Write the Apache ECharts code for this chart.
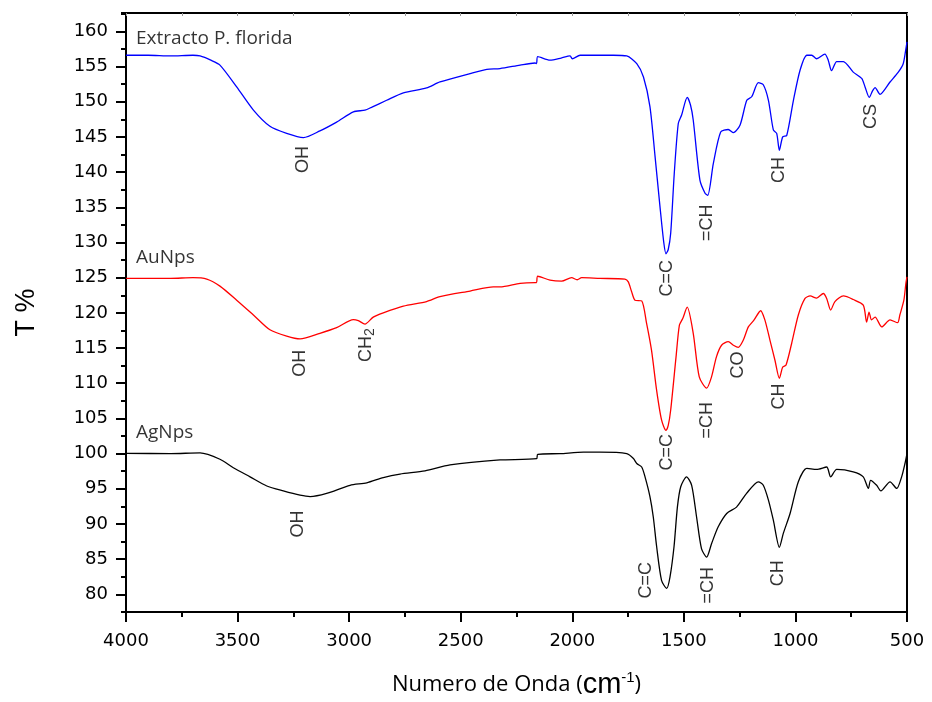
<!DOCTYPE html>
<html>
<head>
<meta charset="utf-8">
<script src="https://cdn.jsdelivr.net/npm/echarts@6/dist/echarts.min.js"></script>
<style>
  html, body { margin: 0; padding: 0; background: #fff; }
  #chart { width: 932px; height: 702px; }
</style>
</head>
<body>
<div id="chart"></div>
<script>
// FTIR spectra, [wavenumber cm-1, T %]
const extractoData = [
  [4000,156.6],[3900,156.6],[3800,156.5],[3700,156.6],[3668,156.5],[3620,155.9],[3579,155.2],[3504,152.1],
  [3429,148.8],[3355,146.5],[3280,145.5],[3205,144.9],[3131,145.85],[3056,147.1],[2981,148.55],[2929,148.8],
  [2900,149.2],[2832,150.2],[2757,151.25],[2653,151.96],[2593,152.8],[2458,154.0],[2383,154.6],[2324,154.7],
  [2234,155.2],[2167,155.5],[2160,155.4],[2155,156.4],[2100,155.9],[2050,156.2],[2010,156.5],[2000,156.1],
  [1965,156.6],[1900,156.6],[1816,156.6],[1756,156.5],[1711,155.4],[1681,153.5],[1652,149.3],[1629,142.2],
  [1607,135.1],[1590,130.0],[1580,128.4],[1570,129.0],[1559,131.3],[1543,139.8],[1525,146.9],[1510,148.1],
  [1485,150.6],[1470,149.5],[1458,147.4],[1428,138.85],[1405,137.0],[1393,136.7],[1368,141.2],[1335,145.7],
  [1301,146.05],[1278,145.6],[1248,146.7],[1218,150.2],[1196,150.7],[1166,152.7],[1144,152.4],[1121,150.2],
  [1099,146.0],[1084,145.5],[1072,143.1],[1057,145.0],[1039,145.2],[1009,150.2],[979,154.5],[949,156.6],
  [927,156.6],[905,156.1],[868,156.75],[853,155.9],[838,154.4],[815,155.7],[785,155.7],[741,154.2],
  [703,153.3],[688,152.1],[669,150.6],[655,151.5],[643,152.0],[621,151.05],[576,152.8],[539,154.2],
  [517,155.4],[506,157.3],[500,158.5]
];
const auNpsData = [
  [4000,124.9],[3800,124.9],[3700,125.0],[3638,124.8],[3579,123.8],[3504,121.8],[3429,119.7],[3355,117.6],
  [3280,116.7],[3220,116.3],[3131,117.1],[3056,117.9],[2981,119.05],[2959,118.9],[2929,118.4],[2892,119.4],
  [2847,120.0],[2757,120.95],[2653,121.6],[2593,122.3],[2458,123.1],[2354,123.7],[2324,123.7],[2234,124.2],
  [2167,124.3],[2160,124.3],[2155,125.2],[2100,124.65],[2048,124.5],[2003,125.0],[1978,124.7],[1958,125.0],
  [1876,124.9],[1764,124.8],[1749,124.4],[1734,123.0],[1719,121.8],[1689,121.7],[1667,118.5],[1645,114.7],
  [1622,109.0],[1600,104.8],[1580,103.3],[1570,104.0],[1559,106.2],[1535,113.75],[1520,118.25],[1505,119.2],
  [1485,120.8],[1458,117.1],[1431,110.9],[1398,109.3],[1376,110.9],[1354,113.75],[1331,115.4],[1301,115.9],
  [1278,115.4],[1256,115.1],[1234,116.1],[1211,118.0],[1186,118.96],[1156,120.3],[1137,119.0],[1114,116.1],
  [1092,113.3],[1072,110.7],[1057,112.3],[1042,112.6],[1017,115.65],[987,119.7],[957,122.05],[934,122.4],
  [905,122.1],[875,122.75],[860,122.05],[842,120.4],[823,121.6],[785,122.4],[741,121.9],[696,121.1],
  [681,118.7],[670,120.1],[659,119.0],[643,119.4],[613,118.0],[576,119.0],[542,118.6],[532,119.7],
  [514,121.8],[505,124.2],[500,125.1]
];
const agNpsData = [
  [4000,100.05],[3800,100.0],[3668,100.1],[3579,99.2],[3519,98.0],[3444,96.7],[3369,95.4],[3295,94.7],
  [3220,94.1],[3175,93.9],[3101,94.35],[2996,95.5],[2921,95.85],[2847,96.6],[2772,97.1],[2660,97.55],
  [2548,98.4],[2324,99.1],[2160,99.3],[2155,99.9],[2055,100.0],[1950,100.2],[1876,100.2],[1756,100.0],
  [1726,99.3],[1711,98.6],[1689,98.1],[1674,96.7],[1652,93.9],[1637,91.0],[1622,86.8],[1600,82.0],
  [1577,80.85],[1562,82.5],[1544,86.8],[1529,92.4],[1514,95.3],[1488,96.7],[1465,95.5],[1443,91.0],
  [1421,86.5],[1398,85.3],[1376,87.2],[1346,89.6],[1308,91.5],[1264,92.4],[1219,94.35],[1166,96.0],
  [1144,95.5],[1121,93.4],[1099,90.55],[1072,86.7],[1054,88.7],[1024,91.5],[987,96.0],[949,97.9],
  [905,97.75],[860,98.1],[842,96.7],[815,97.75],[741,97.4],[696,96.7],[673,95.05],[663,96.2],
  [636,95.5],[617,94.7],[576,96.0],[546,95.05],[524,96.7],[509,98.6],[500,100.0]
];

// band assignments: [wavenumber, T %, text]
const peakLabels = [
  [3207,141.8,'OH'],[1577,124.9,'C=C'],[1395,132.8,'=CH'],[1073,140.3,'CH'],[663,147.9,'CS'],
  [3220,112.85,'OH'],[2924,115.4,'CH2'],[1577,100.2,'C=C'],[1398,104.75,'=CH'],[1256,112.6,'CO'],[1073,108.1,'CH'],
  [3228,90.0,'OH'],[1670,82.0,'C=C'],[1391,81.3,'=CH'],[1077,83.0,'CH']
];
// sample names written inside the plot
const sampleNames = [
  [3955,159.0,'Extracto P. florida'],
  [3955,127.8,'AuNps'],
  [3955,103.05,'AgNps']
];
const yTicks = [80,85,90,95,100,105,110,115,120,125,130,135,140,145,150,155,160];

const chart = echarts.init(document.getElementById('chart'));

const tickFont = { fontFamily: 'DejaVu Sans', fontSize: 18, color: '#000' };

chart.setOption({
  backgroundColor: '#fff',
  animation: false,
  grid: { left: 126, right: 25, top: 13, bottom: 90, containLabel: false, outerBoundsMode: 'none' },
  xAxis: [
    {
      type: 'value',
      min: 500,
      max: 4000,
      interval: 500,
      inverse: true,
      position: 'bottom',
      name: '{t|Numero de Onda (}{c|cm}{s|-1}{t|)}',
      nameLocation: 'middle',
      nameGap: 58,
      nameTextStyle: {
        rich: {
          t: { fontFamily: 'Open Sans', fontSize: 22, color: '#000' },
          c: { fontFamily: 'Liberation Sans', fontSize: 29, color: '#000' },
          s: { fontFamily: 'Liberation Sans', fontSize: 15, color: '#000', verticalAlign: 'top', padding: [0, 0, 14, 0] }
        }
      },
      axisLine: { show: true, lineStyle: { color: '#000', width: 2 } },
      axisTick: { show: true, inside: false, length: 10, lineStyle: { color: '#000', width: 2 } },
      minorTick: { show: true, splitNumber: 2, length: 5, lineStyle: { color: '#000', width: 2 } },
      axisLabel: Object.assign({ margin: 20, formatter: v => String(v) }, tickFont),
      splitLine: { show: false }
    },
    {
      type: 'value',
      min: 500,
      max: 4000,
      interval: 250,
      inverse: true,
      position: 'top',
      axisLine: { show: true, lineStyle: { color: '#000', width: 2 } },
      axisTick: { show: true, inside: true, length: 3, lineStyle: { color: '#999', width: 1 } },
      axisLabel: { show: false },
      splitLine: { show: false }
    }
  ],
  yAxis: [
    {
      type: 'value',
      min: 77.5,
      max: 162.6,
      position: 'left',
      name: 'T %',
      nameLocation: 'middle',
      nameGap: 86,
      nameTextStyle: { fontFamily: 'Liberation Sans', fontSize: 27, color: '#000' },
      axisLine: { show: true, lineStyle: { color: '#000', width: 2 } },
      axisTick: { show: true, length: 10, customValues: yTicks, lineStyle: { color: '#000', width: 2 } },
      axisLabel: Object.assign({ margin: 18, customValues: yTicks }, tickFont),
      splitLine: { show: false }
    },
    {
      // minor ticks every 2.5
      type: 'value',
      min: 77.5,
      max: 162.6,
      interval: 2.5,
      position: 'left',
      axisLine: { show: false },
      axisTick: { show: true, length: 5, lineStyle: { color: '#000', width: 2 } },
      axisLabel: { show: false },
      splitLine: { show: false }
    },
    {
      type: 'value',
      min: 77.5,
      max: 162.6,
      position: 'right',
      axisLine: { show: true, lineStyle: { color: '#000', width: 2 } },
      axisTick: { show: false },
      axisLabel: { show: false },
      splitLine: { show: false }
    }
  ],
  series: [
    {
      name: 'Extracto P. florida',
      type: 'line',
      data: extractoData,
      showSymbol: false,
      smooth: 0.25,
      lineStyle: { color: '#0000ff', width: 1.3 },
      z: 3
    },
    {
      name: 'AuNps',
      type: 'line',
      data: auNpsData,
      showSymbol: false,
      smooth: 0.25,
      lineStyle: { color: '#ff0000', width: 1.3 },
      z: 3
    },
    {
      name: 'AgNps',
      type: 'line',
      data: agNpsData,
      showSymbol: false,
      smooth: 0.25,
      lineStyle: { color: '#000000', width: 1.3 },
      z: 3
    },
    {
      name: 'peaks',
      type: 'scatter',
      data: peakLabels,
      symbolSize: 0,
      silent: true,
      label: {
        show: true,
        position: 'inside',
        rotate: 90,
        formatter: p => p.data[2] === 'CH2' ? '{a|CH}{s|2}' : '{a|' + p.data[2] + '}',
        rich: {
          a: { fontFamily: 'Liberation Sans', fontSize: 18, color: '#000' },
          s: { fontFamily: 'Liberation Sans', fontSize: 14, color: '#000', padding: [8, 0, 0, 0] }
        }
      },
      z: 5
    },
    {
      name: 'names',
      type: 'scatter',
      data: sampleNames,
      symbolSize: 0,
      silent: true,
      label: {
        show: true,
        position: 'right',
        distance: 0,
        formatter: p => p.data[2],
        fontFamily: 'Open Sans',
        fontSize: 19,
        color: '#000'
      },
      z: 5
    }
  ]
});
</script>
</body>
</html>
